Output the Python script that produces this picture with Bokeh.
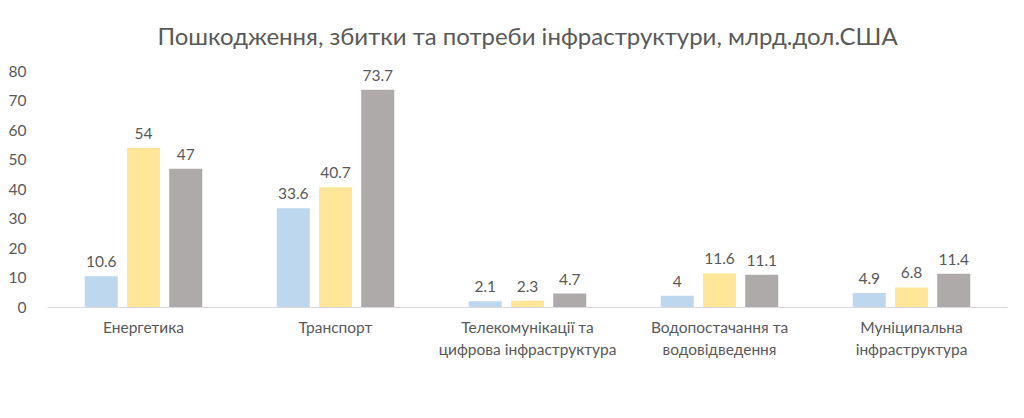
from bokeh.plotting import figure
from bokeh.models import (ColumnDataSource, Range1d, LabelSet, Legend, LegendItem,
                          FixedTicker, LinearAxis)
from bokeh.transform import dodge
from bokeh.core.properties import value
from bokeh.embed import file_html
from bokeh.resources import INLINE

categories = ["Енергетика", "Транспорт", "Телекомунікації та\nцифрова інфраструктура",
              "Водопостачання та\nводовідведення", "Муніципальна\nінфраструктура"]
damage = [10.6, 33.6, 2.1, 4, 4.9]
losses = [54, 40.7, 2.3, 11.6, 6.8]
needs = [47, 73.7, 4.7, 11.1, 11.4]
series_names = ["Пошкодження", "Збитки", "Потреби"]
y_ticks = [0, 10, 20, 30, 40, 50, 60, 70, 80]

def fmt(v):
    return str(int(v)) if float(v).is_integer() else str(v)

positions = list(range(len(categories)))
src = ColumnDataSource(dict(
    x=positions, cat=categories, damage=damage, losses=losses, needs=needs,
    damage_t=[fmt(v) for v in damage], losses_t=[fmt(v) for v in losses],
    needs_t=[fmt(v) for v in needs]))

FONT = "Lato"
TXT = "#595959"

p = figure(frame_width=960, frame_height=251, x_range=Range1d(-0.5, len(categories) - 0.5),
           y_range=Range1d(0, 85), output_backend="svg", toolbar_location=None,
           min_border_left=47, min_border_right=9, min_border_top=56, min_border_bottom=0)

p.title.text = "Пошкодження, збитки та потреби інфраструктури, млрд.дол.США"
p.title.align = "center"
p.title.text_font = FONT
p.title.text_font_size = "24px"
p.title.text_font_style = "normal"
p.title.text_color = TXT
p.title.standoff = 13

colors = ["#BDD7EE", "#FFE699", "#AEAAAA"]
fields = ["damage", "losses", "needs"]
offsets = [-0.22, 0.0, 0.22]
renderers = []
for f, c, o in zip(fields, colors, offsets):
    r = p.vbar(x=dodge("x", o), top=f, width=0.172, source=src,
               fill_color=c, line_color=None)
    renderers.append(r)
    lbl = LabelSet(x=dodge("x", o), y=f, text=f + "_t", source=src,
                   text_align="center", text_baseline="bottom", y_offset=9,
                   text_font=value(FONT), text_font_size="15.5px", text_color=TXT)
    p.add_layout(lbl)

p.outline_line_color = None
p.grid.grid_line_color = None
p.yaxis.ticker = FixedTicker(ticks=y_ticks)
p.yaxis.axis_line_color = None
p.yaxis.major_tick_line_color = None
p.yaxis.minor_tick_line_color = None
p.yaxis.major_label_text_font = FONT
p.yaxis.major_label_text_font_size = "15.5px"
p.yaxis.major_label_text_color = TXT
p.yaxis.major_label_standoff = 15

# category labels: first line on the main axis, second line on a second axis below it
line1 = {i: c.split("\n")[0] for i, c in zip(positions, categories)}
line2 = {i: (c.split("\n")[1] if "\n" in c else " ") for i, c in zip(positions, categories)}

xa = p.xaxis[0]
xa.ticker = FixedTicker(ticks=positions)
xa.axis_line_color = "#D9D9D9"
xa.major_tick_line_color = None
xa.minor_tick_line_color = None
xa.major_label_text_font = FONT
xa.major_label_text_font_size = "15.5px"
xa.major_label_text_color = TXT
xa.major_label_standoff = 4
xa.major_label_overrides = line1

xa2 = LinearAxis(ticker=FixedTicker(ticks=positions),
                 axis_line_color=None, major_tick_line_color=None, minor_tick_line_color=None,
                 major_label_text_font=FONT, major_label_text_font_size="15.5px",
                 major_label_text_color=TXT, major_label_standoff=-5,
                 major_label_overrides=line2)
p.add_layout(xa2, "below")

legend = Legend(items=[LegendItem(label=n, renderers=[r]) for n, r in zip(series_names, renderers)],
                orientation="horizontal", location="center",
                label_text_font=FONT, label_text_font_size="15px", label_text_color=TXT,
                glyph_width=10, glyph_height=10, spacing=20, label_standoff=4,
                border_line_color=None, background_fill_alpha=0, margin=2, padding=0)
p.add_layout(legend, "below")

open("out.html", "w").write(file_html(p, INLINE))
